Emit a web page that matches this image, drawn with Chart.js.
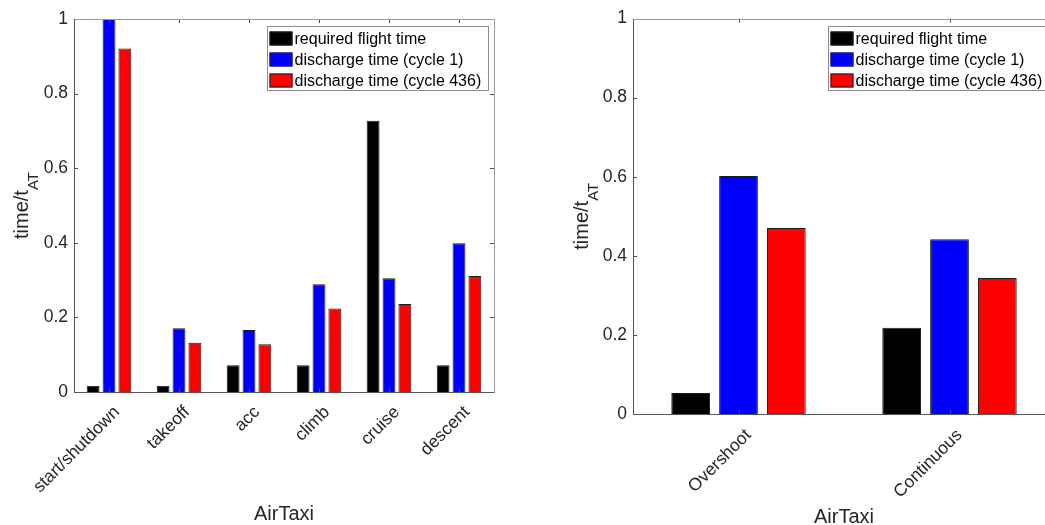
<!DOCTYPE html>
<html>
<head>
<meta charset="utf-8">
<script src="https://cdn.jsdelivr.net/npm/chart.js@4.4.1/dist/chart.umd.min.js"></script>
<style>
html,body{margin:0;padding:0;overflow:hidden;background:#fff;width:1045px;height:525px;position:relative;}
#c1{position:absolute;left:0;top:0;}
#c2{position:absolute;left:560px;top:0;}
</style>
</head>
<body>
<canvas id="c1" width="520" height="525"></canvas>
<canvas id="c2" width="500" height="525"></canvas>
<script>
// ---- data ----
const seriesNames = ['required flight time', 'discharge time (cycle 1)', 'discharge time (cycle 436)'];
const seriesColors = ['#000000', '#0000ff', '#ff0000'];

const phaseCategories = ['start/shutdown', 'takeoff', 'acc', 'climb', 'cruise', 'descent'];
const phaseRequired = [0.017, 0.017, 0.072, 0.072, 0.727, 0.072];
const phaseCycle1   = [1.000, 0.171, 0.166, 0.289, 0.305, 0.399];
const phaseCycle436 = [0.921, 0.132, 0.128, 0.224, 0.236, 0.311];

const modeCategories = ['Overshoot', 'Continuous'];
const modeRequired = [0.053, 0.218];
const modeCycle1   = [0.602, 0.442];
const modeCycle436 = [0.470, 0.344];

const yTickValues = [0, 0.2, 0.4, 0.6, 0.8, 1];
const xAxisTitle = 'AirTaxi';
const yAxisTitleMain = 'time/t';
const yAxisTitleSub = 'AT';

// ---- styling ----
const FONT = '"Liberation Sans", Arial, Helvetica, sans-serif';
const TEXT = '#262626';

const framePlugin = {
  id: 'frame',
  afterDatasetsDraw(chart, args, opts) {
    const ctx = chart.ctx;
    const a = chart.chartArea;
    const xs = chart.scales.x, ys = chart.scales.y;
    ctx.save();
    // inward ticks
    ctx.strokeStyle = '#4d4d4d';
    ctx.lineWidth = 1;
    const tl = 4;
    ctx.beginPath();
    ys.ticks.forEach(t => {
      const y = Math.round(ys.getPixelForValue(t.value)) + 0.5;
      ctx.moveTo(a.left, y); ctx.lineTo(a.left + tl, y);
      ctx.moveTo(a.right, y); ctx.lineTo(a.right - tl, y);
    });
    xs.ticks.forEach((t, i) => {
      const x = Math.round(xs.getPixelForTick(i)) + 0.5;
      ctx.moveTo(x, a.top); ctx.lineTo(x, a.top + tl);
      ctx.moveTo(x, a.bottom); ctx.lineTo(x, a.bottom - tl);
    });
    ctx.stroke();
    // box
    const L = Math.round(a.left) + 0.5, T = Math.round(a.top) + 0.5;
    const R = Math.round(a.right) + 0.5, B = Math.round(a.bottom) + 0.5;
    ctx.strokeStyle = '#9a9a9a';
    ctx.beginPath();
    ctx.moveTo(L, T); ctx.lineTo(R, T); ctx.lineTo(R, B);
    ctx.stroke();
    ctx.strokeStyle = '#555555';
    ctx.beginPath();
    ctx.moveTo(L, T); ctx.lineTo(L, B); ctx.lineTo(R, B);
    ctx.stroke();
    // legend
    const lw = 221, lh = 64;
    const lx = Math.round(a.right - 6 - lw) + 0.5;
    const ly = Math.round(a.top + 7) + 0.5;
    ctx.fillStyle = '#ffffff';
    ctx.fillRect(lx, ly, lw, lh);
    ctx.strokeStyle = '#8c8c8c';
    ctx.strokeRect(lx, ly, lw, lh);
    ctx.font = '16px ' + FONT;
    ctx.textBaseline = 'middle';
    ctx.textAlign = 'left';
    chart.data.datasets.forEach((ds, i) => {
      const cy = ly + 12 + i * 21;
      ctx.fillStyle = ds.backgroundColor;
      ctx.fillRect(lx + 2, cy - 7, 23, 14);
      ctx.strokeStyle = '#222';
      ctx.strokeRect(lx + 2.5, cy - 6.5, 22, 13);
      ctx.fillStyle = '#000000';
      ctx.fillText(ds.label, lx + 27, cy + 1);
    });
    // x title
    ctx.fillStyle = TEXT;
    ctx.font = '20px ' + FONT;
    ctx.textAlign = 'center';
    ctx.textBaseline = 'middle';
    ctx.fillText(xAxisTitle, (a.left + a.right) / 2, opts.xTitleY);
    // y title with subscript
    ctx.translate(opts.yTitleX, (a.top + a.bottom) / 2);
    ctx.rotate(-Math.PI / 2);
    ctx.textAlign = 'left';
    ctx.textBaseline = 'alphabetic';
    ctx.font = '20px ' + FONT;
    const w1 = ctx.measureText(yAxisTitleMain).width;
    ctx.font = '15px ' + FONT;
    const w2 = ctx.measureText(yAxisTitleSub).width;
    const start = -(w1 + w2) / 2;
    ctx.font = '20px ' + FONT;
    ctx.fillText(yAxisTitleMain, start, 0);
    ctx.font = '15px ' + FONT;
    ctx.fillText(yAxisTitleSub, start + w1, 10);
    ctx.restore();
  }
};

function makeChart(id, cats, req, c1, c436, geo) {
  const vals = [req, c1, c436];
  return new Chart(document.getElementById(id), {
    type: 'bar',
    data: {
      labels: cats,
      datasets: vals.map((v, i) => ({
        label: seriesNames[i],
        data: v,
        backgroundColor: seriesColors[i],
        borderColor: '#1a1a1a',
        borderWidth: 1,
        borderSkipped: 'bottom'
      }))
    },
    options: {
      responsive: false,
      animation: false,
      devicePixelRatio: 1,
      layout: { padding: { left: 0, right: geo.padRight, top: geo.top, bottom: 0 } },
      datasets: { bar: { categoryPercentage: 0.68, barPercentage: 0.81 } },
      plugins: {
        legend: { display: false },
        tooltip: { enabled: false },
        frame: { xTitleY: geo.xTitleY, yTitleX: geo.yTitleX }
      },
      scales: {
        x: {
          grid: { display: false, drawTicks: false },
          border: { display: false },
          ticks: {
            autoSkip: false, minRotation: 45, maxRotation: 45,
            padding: geo.labelPad, labelOffset: geo.labelShift,
            color: TEXT, font: { family: FONT, size: 17.5 }
          },
          afterFit(s) { s.height = geo.xHeight; }
        },
        y: {
          min: 0, max: 1,
          afterBuildTicks(s) { s.ticks = yTickValues.map(v => ({ value: v })); },
          grid: { display: false, drawTicks: false },
          border: { display: false },
          ticks: {
            padding: 6, color: TEXT, font: { family: FONT, size: 17.5 },
            callback: v => String(v)
          },
          afterFit(s) { s.width = geo.yWidth; }
        }
      }
    },
    plugins: [framePlugin]
  });
}

makeChart('c1', phaseCategories, phaseRequired, phaseCycle1, phaseCycle436,
  { padRight: 26, top: 19, xHeight: 133, yWidth: 74, xTitleY: 514, yTitleX: 28, labelPad: 10, labelShift: 8 });
makeChart('c2', modeCategories, modeRequired, modeCycle1, modeCycle436,
  { padRight: 5, top: 18.5, xHeight: 111, yWidth: 73, xTitleY: 517, yTitleX: 28, labelPad: 11, labelShift: 10 });
</script>
</body>
</html>
